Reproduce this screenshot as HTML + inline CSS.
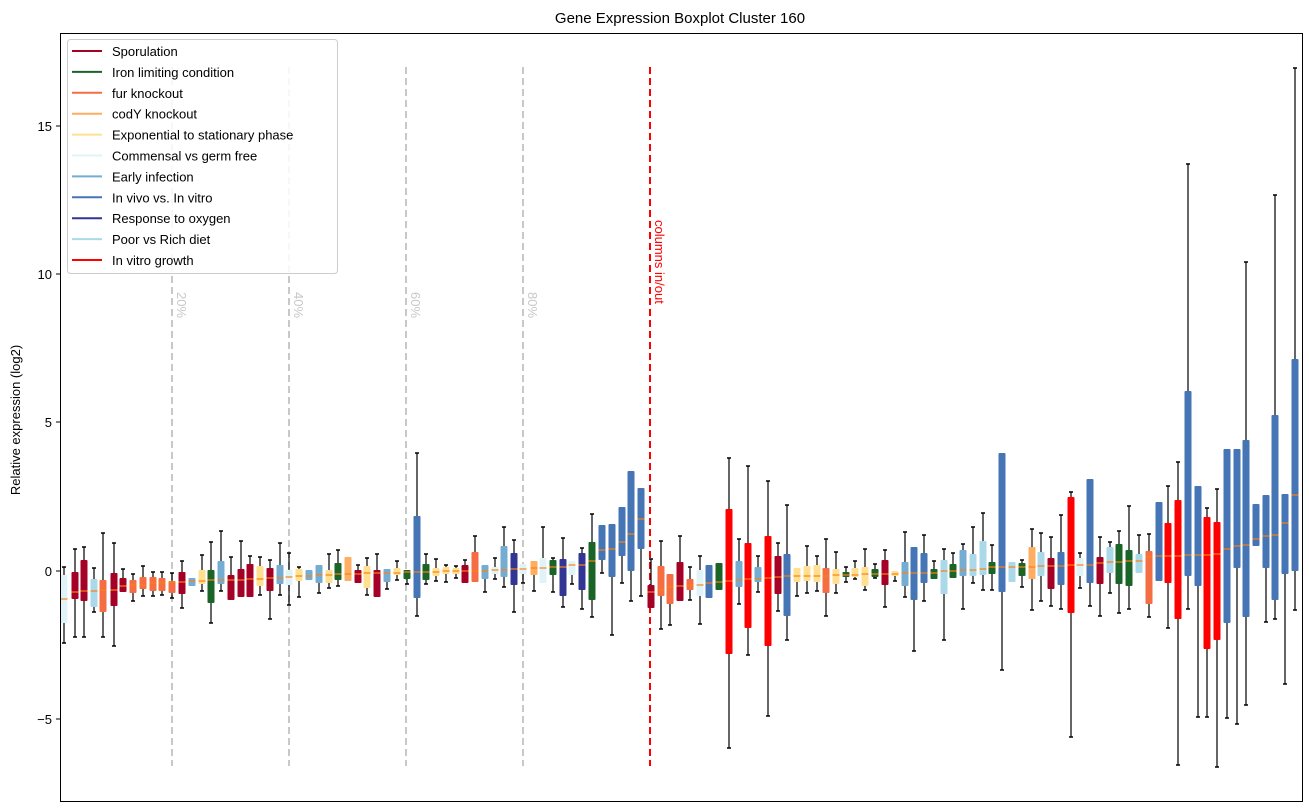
<!DOCTYPE html>
<html><head><meta charset="utf-8"><style>
body{margin:0;background:#fff;}
svg{display:block;font-family:"Liberation Sans","DejaVu Sans",sans-serif;}
</style></head><body>
<svg id="s" width="1309" height="812" xmlns="http://www.w3.org/2000/svg">
<rect x="0" y="0" width="1309" height="812" fill="#fff"/>
<text x="680" y="23" font-size="15" text-anchor="middle">Gene Expression Boxplot Cluster 160</text>
<g id="grid"></g>
<g id="boxes"></g>
<rect x="60.5" y="33.5" width="1242" height="768" fill="none" stroke="#000" stroke-width="1"/>
<g font-size="13" text-anchor="end">
<line x1="56" x2="60" y1="126" y2="126" stroke="#000"/><text x="52" y="131">15</text>
<line x1="56" x2="60" y1="274" y2="274" stroke="#000"/><text x="52" y="279">10</text>
<line x1="56" x2="60" y1="422" y2="422" stroke="#000"/><text x="52" y="427">5</text>
<line x1="56" x2="60" y1="571" y2="571" stroke="#000"/><text x="52" y="576">0</text>
<line x1="56" x2="60" y1="719" y2="719" stroke="#000"/><text x="52" y="724">−5</text>
</g>
<text transform="translate(20,420) rotate(-90)" font-size="13" text-anchor="middle">Relative expression (log2)</text>
<g id="legend"></g>
</svg>
<script>
var C={s:"#a50026",i:"#1a6428",f:"#f46d43",c:"#fdae61",e:"#fee090",g:"#e0f3f8",a:"#74add1",v:"#4575b4",o:"#313695",p:"#abd9e9",r:"#ff0000"};
var D=[
[64,567,575,599,623,643,'g'],[75,549,572,592,599,637,'s'],[84,547,560,591,601,637,'s'],[94,568,579,591,607,612,'p'],
[103,533,580,590,612,637,'f'],[114,543,573,590,606,646,'s'],[123,569,578,586,592,592,'s'],[133,574,580,585,593,601,'f'],
[143,566,577,585,589,596,'f'],[153,572,577,583,591,596,'f'],[162,572,578,583,591,595,'f'],[172,573,581,582,593,598,'f'],
[182,561,572,582,594,608,'s'],[192,578,578,581,586,586,'a'],[202,555,570,581,584,591,'e'],[211,542,570,580,603,623,'i'],
[221,531,561,580,584,591,'a'],[231,557,575,580,600,600,'s'],[241,541,569,580,597,597,'s'],[250,556,564,579,597,597,'s'],
[260,557,566,579,586,595,'e'],[270,560,568,578,591,619,'s'],[280,543,565,578,584,595,'a'],[289,553,570,577,585,605,'g'],
[299,567,569,576,581,597,'e'],[309,570,570,576,580,580,'a'],[319,565,565,575,583,593,'a'],[329,554,570,575,583,588,'e'],
[338,550,563,574,580,586,'i'],[348,557,557,574,581,581,'c'],[358,565,570,574,583,583,'s'],[367,558,566,573,588,595,'e'],
[377,554,570,573,597,597,'s'],[387,569,569,573,582,589,'a'],[397,561,568,573,575,580,'e'],[407,570,570,572,579,584,'i'],
[417,453,516,572,598,616,'v'],[426,554,564,572,580,584,'i'],[436,559,568,572,576,581,'e'],[446,565,567,571,574,582,'e'],
[456,566,568,571,574,578,'e'],[465,560,565,571,583,583,'s'],[475,536,552,571,582,582,'f'],[485,565,565,571,579,592,'a'],
[495,558,567,570,574,579,'g'],[504,527,546,570,577,587,'a'],[514,540,553,569,585,612,'o'],[523,564,564,569,574,583,'g'],
[534,561,561,568,575,591,'c'],[543,527,558,568,583,583,'g'],[553,558,560,567,575,592,'i'],[563,538,559,567,596,607,'o'],
[572,561,561,565,575,584,'g'],[582,548,553,565,590,609,'o'],[592,514,542,561,600,617,'i'],[602,525,525,550,560,573,'v'],
[612,524,524,549,577,635,'v'],[622,507,507,542,556,583,'v'],[631,471,471,534,571,601,'v'],[641,488,488,519,549,596,'v'],
[651,559,585,592,608,608,'s'],[661,541,566,590,596,629,'f'],[670,574,574,587,604,625,'f'],[680,536,562,586,601,601,'s'],
[690,567,579,585,590,600,'f'],[700,556,570,585,596,624,'g'],[709,565,565,583,598,598,'v'],[719,563,563,582,590,590,'i'],
[729,458,509,581,654,748,'r'],[739,539,561,580,587,604,'a'],[748,466,543,579,628,655,'r'],[758,556,567,579,582,592,'a'],
[768,481,536,578,646,716,'r'],[778,543,556,577,594,611,'s'],[787,505,554,576,616,640,'v'],[797,568,568,576,582,596,'e'],
[807,546,566,576,581,593,'e'],[817,556,565,576,582,591,'e'],[826,539,568,576,593,616,'f'],[836,552,569,575,584,593,'e'],
[846,567,572,575,577,582,'i'],[855,561,568,575,577,579,'e'],[865,549,567,574,586,590,'e'],[875,564,569,574,577,578,'i'],
[885,550,560,574,585,607,'s'],[895,571,571,574,576,581,'e'],[905,532,562,573,586,597,'a'],[914,547,547,573,600,651,'v'],
[924,535,553,573,583,601,'v'],[934,561,569,573,579,579,'i'],[944,549,560,571,594,640,'p'],[953,553,564,571,578,578,'i'],
[963,544,550,570,576,609,'a'],[973,527,554,570,576,583,'p'],[983,513,541,569,575,590,'p'],[992,545,562,567,574,590,'i'],
[1002,453,453,567,592,670,'v'],[1012,562,562,567,582,582,'p'],[1022,560,563,567,576,587,'i'],[1032,529,547,567,579,610,'c'],
[1041,533,552,566,576,601,'p'],[1051,537,558,566,589,606,'s'],[1061,515,552,566,585,609,'v'],[1071,492,497,565,613,737,'r'],
[1080,553,558,565,576,588,'g'],[1090,479,479,565,583,606,'v'],[1100,537,557,563,584,616,'s'],[1110,542,547,562,573,593,'p'],
[1119,531,544,562,584,613,'i'],[1129,506,550,561,586,609,'i'],[1139,535,554,561,573,573,'p'],[1149,534,551,557,604,617,'f'],
[1159,502,502,556,581,581,'v'],[1168,486,523,556,583,628,'r'],[1178,462,500,556,619,765,'r'],[1188,164,391,555,576,609,'v'],
[1198,486,486,555,586,717,'v'],[1207,508,517,555,649,717,'r'],[1217,489,522,554,640,767,'r'],[1227,449,449,549,623,718,'v'],
[1237,449,449,546,568,724,'v'],[1246,262,440,545,617,705,'v'],[1256,504,504,539,546,546,'v'],[1266,495,495,536,568,622,'v'],
[1275,195,415,535,600,619,'v'],[1285,494,494,523,574,684,'v'],[1295,68,359,495,571,610,'v']];
var ns="http://www.w3.org/2000/svg";
function el(p,t,a){var e=document.createElementNS(ns,t);for(var k in a)e.setAttribute(k,a[k]);p.appendChild(e);return e;}
var g=document.getElementById('grid');
[172,289,406,523].forEach(function(x,i){
 el(g,'line',{x1:x,x2:x,y1:67,y2:766,stroke:'#c8c8c8','stroke-width':2,'stroke-dasharray':'7,4'});
 var t=el(g,'text',{transform:'translate('+(x+5)+',292) rotate(90)','font-size':13,fill:'#c8c8c8'});t.textContent=(20*(i+1))+'%';
});
el(g,'line',{x1:650,x2:650,y1:67,y2:766,stroke:'#ff0000','stroke-width':2,'stroke-dasharray':'7,4'});
var t=el(g,'text',{transform:'translate(655,220) rotate(90)','font-size':13,fill:'#ff0000'});t.textContent='columns in/out';
var b=document.getElementById('boxes');
D.forEach(function(d){
 var x=d[0],c=C[d[6]];
 if(d[1]<d[2]){el(b,'line',{x1:x,x2:x,y1:d[1],y2:d[2],stroke:'#000','stroke-width':1.2});el(b,'line',{x1:x-2,x2:x+2,y1:d[1],y2:d[1],stroke:'#000','stroke-width':1.5});}
 if(d[5]>d[4]){el(b,'line',{x1:x,x2:x,y1:d[4],y2:d[5],stroke:'#000','stroke-width':1.2});el(b,'line',{x1:x-2,x2:x+2,y1:d[5],y2:d[5],stroke:'#000','stroke-width':1.5});}
 el(b,'rect',{x:x-3.5,y:d[2],width:7,height:Math.max(d[4]-d[2],1),fill:c,rx:1});
 el(b,'line',{x1:x-3.5,x2:x+3.5,y1:d[3],y2:d[3],stroke:'#ff7f0e','stroke-width':1.2});
});
var L=[['Sporulation','s'],['Iron limiting condition','i'],['fur knockout','f'],['codY knockout','c'],['Exponential to stationary phase','e'],['Commensal vs germ free','g'],['Early infection','a'],['In vivo vs. In vitro','v'],['Response to oxygen','o'],['Poor vs Rich diet','p'],['In vitro growth','r']];
var lg=document.getElementById('legend');
el(lg,'rect',{x:67.5,y:39.5,width:270,height:234,fill:'#fff','fill-opacity':0.85,stroke:'#ccc',rx:3});
L.forEach(function(l,i){var y=51+i*20.9;
 el(lg,'line',{x1:72,x2:102,y1:y,y2:y,stroke:C[l[1]],'stroke-width':2});
 var t=el(lg,'text',{x:112,y:y+5,'font-size':13});t.textContent=l[0];});
</script>
</body></html>
